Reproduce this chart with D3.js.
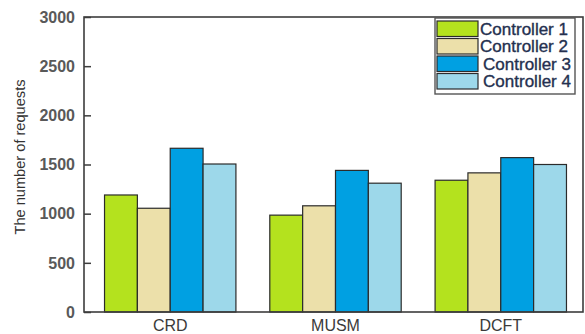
<!DOCTYPE html>
<html><head><meta charset="utf-8">
<script src="https://cdn.jsdelivr.net/npm/d3@7"></script>
<style>body{margin:0;background:#fff}svg{display:block}</style>
</head><body>
<svg id="c" width="585" height="334"></svg>
<script>
const categories = ["CRD", "MUSM", "DCFT"];
const seriesNames = ["Controller 1", "Controller 2", "Controller 3", "Controller 4"];
const controller1 = [1190, 985, 1340];
const controller2 = [1055, 1080, 1415];
const controller3 = [1665, 1440, 1570];
const controller4 = [1505, 1310, 1500];
const yTicks = [0, 500, 1000, 1500, 2000, 2500, 3000];
const colors = ["#b4e21e", "#ece0aa", "#00a0e2", "#9dd8ea"];
const series = [controller1, controller2, controller3, controller4];

const svg = d3.select("#c");
const m = {l: 84, r: 583, t: 17, b: 312};
const x = d3.scaleBand().domain(categories).range([m.l + 4, m.r]).paddingInner(0.205).paddingOuter(0.1);
const xs = d3.scaleBand().domain(seriesNames).range([0, x.bandwidth()]);
const y = d3.scaleLinear().domain([0, 3000]).range([m.b, m.t]);

// bars
categories.forEach((c, ci) => {
  svg.append("g").selectAll("rect").data(seriesNames).join("rect")
    .attr("x", s => x(c) + xs(s))
    .attr("y", (s, si) => y(series[si][ci]))
    .attr("width", xs.bandwidth())
    .attr("height", (s, si) => y(0) - y(series[si][ci]))
    .attr("fill", (s, si) => colors[si])
    .attr("stroke", "#2b2b2b").attr("stroke-width", 1.2);
});

// frame
svg.append("rect").attr("x", m.l).attr("y", m.t).attr("width", m.r - m.l).attr("height", m.b - m.t)
  .attr("fill", "none").attr("stroke", "#3d3d3d").attr("stroke-width", 1.6);

// y axis
const ya = svg.append("g").attr("transform", `translate(${m.l},0)`)
  .call(d3.axisRight(y).tickValues(yTicks).tickSize(7).tickFormat(""));
ya.select(".domain").remove();
ya.selectAll("line").attr("stroke", "#3d3d3d").attr("stroke-width", 1.5);
svg.append("g").selectAll("text").data(yTicks).join("text")
  .attr("x", m.l - 9).attr("y", d => y(d)).attr("dy", "0.36em")
  .attr("text-anchor", "end").attr("font-family", "Liberation Sans, Arial, sans-serif")
  .attr("font-weight", "bold").attr("font-size", 16).attr("fill", "#595959")
  .text(d => d);

// x labels
const xa = svg.append("g").attr("transform", `translate(0,${m.b})`)
  .call(d3.axisBottom(x).tickSize(0).tickPadding(0));
xa.select(".domain").remove();
xa.selectAll("text").attr("y", 19).attr("dy", 0)
  .attr("font-family", "Liberation Sans, Arial, sans-serif").attr("font-size", 16)
  .attr("fill", "#3a3a3a");

// y title
svg.append("text").attr("transform", "translate(25,157) rotate(-90)")
  .attr("text-anchor", "middle").attr("font-family", "Liberation Sans Narrow, Liberation Sans, Arial, sans-serif")
  .attr("font-size", 14).attr("fill", "#333").attr("textLength", 155).attr("lengthAdjust", "spacingAndGlyphs")
  .text("The number of requests");

// legend
const lg = svg.append("g");
lg.append("rect").attr("x", 435).attr("y", 18).attr("width", 140).attr("height", 76)
  .attr("fill", "#fff").attr("stroke", "#555").attr("stroke-width", 1.4);
seriesNames.forEach((s, i) => {
  lg.append("rect").attr("x", 437).attr("y", 21 + i * 17.5).attr("width", 41).attr("height", 15.5)
    .attr("fill", colors[i]).attr("stroke", "#2b2b2b").attr("stroke-width", 1.2);
  lg.append("text").attr("x", 480 + (i >= 2 ? 3 : 0)).attr("y", 29 + i * 17.5).attr("dy", "0.36em")
    .attr("font-family", "Liberation Sans, Arial, sans-serif").attr("font-size", 16.5)
    .attr("fill", "#24304f").attr("stroke", "#24304f").attr("stroke-width", 0.35)
    .attr("textLength", 88).attr("lengthAdjust", "spacingAndGlyphs").text(s);
});
</script>
</body></html>
